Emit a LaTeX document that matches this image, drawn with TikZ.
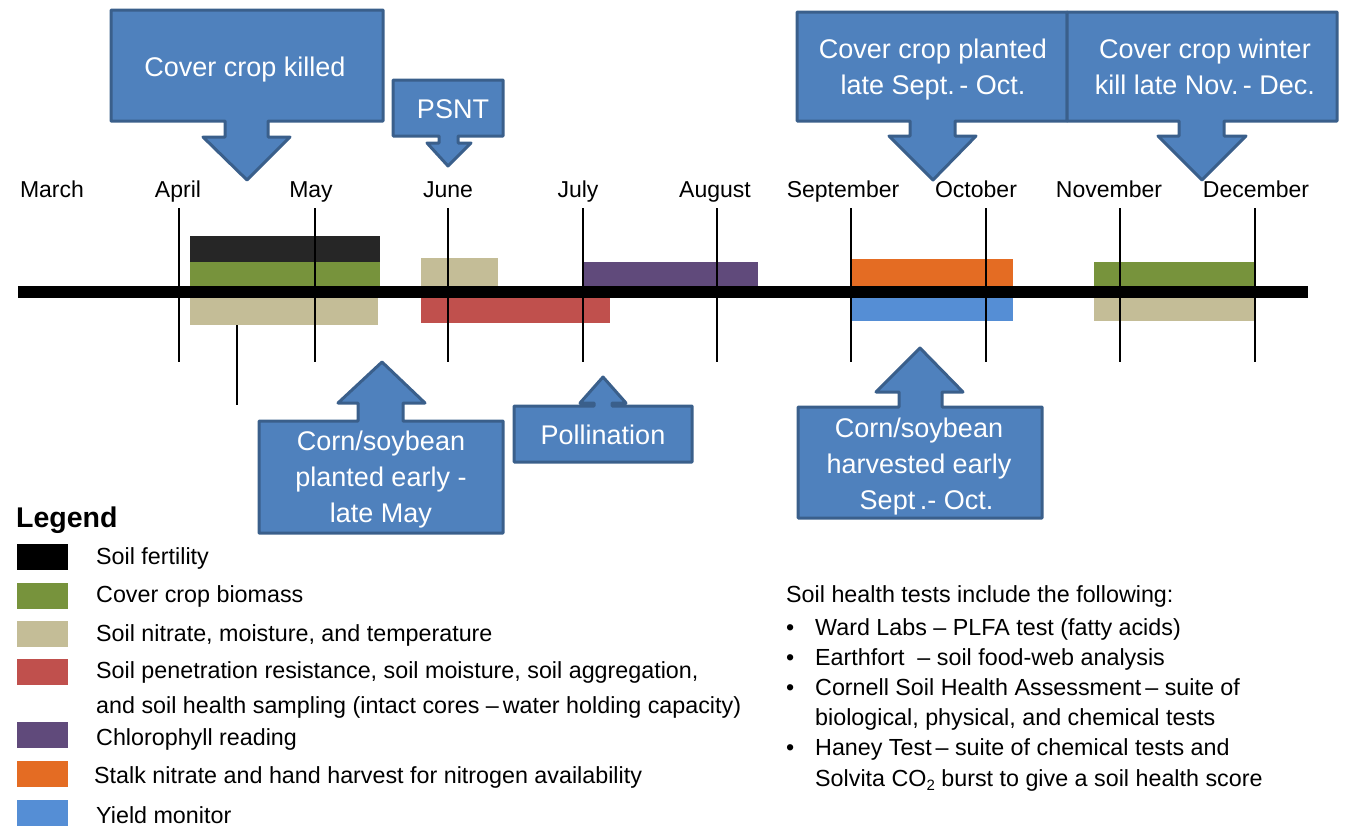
\documentclass[tikz,border=0pt]{standalone}
\usepackage{fontspec}
\setmainfont{Liberation Sans}
\definecolor{cblue}{HTML}{4F81BD}
\definecolor{cborder}{HTML}{3A5F8B}
\definecolor{cfert}{HTML}{262626}
\definecolor{cgreen}{HTML}{77933C}
\definecolor{ctan}{HTML}{C4BD97}
\definecolor{cred}{HTML}{C0504D}
\definecolor{cpurple}{HTML}{604A7B}
\definecolor{corange}{HTML}{E46C23}
\definecolor{cyield}{HTML}{558ED5}
\tikzset{
  callout/.style={fill=cblue, draw=cborder, line width=3pt, line join=round},
  ctext/.style={text=white, font=\fontsize{27}{36}\selectfont, align=center, inner sep=0pt},
  month/.style={font=\fontsize{23}{27}\selectfont, anchor=base, inner sep=0pt},
  mline/.style={line width=1.8pt},
  ltext/.style={font=\fontsize{23.3}{35}\selectfont, anchor=base west, inner sep=0pt},
}
\begin{document}
\begin{tikzpicture}[x=1pt,y=-1pt]
\useasboundingbox (0,0) rectangle (1345,827);
% top callouts
\draw[callout] (111,10) -- (383,10) -- (383,121) -- (268,121) -- (268,137) -- (290,137) -- (247,180) -- (203,137) -- (225,137) -- (225,121) -- (111,121) -- cycle;
\node[ctext] (killed) at (245,70) {Cover crop killed};
\draw[callout] (393,80) -- (503,80) -- (503,136) -- (458,136) -- (458,143) -- (471,143) -- (448,166) -- (427,143) -- (439,143) -- (439,136) -- (393,136) -- cycle;
\node[ctext] (psnt) at (453,109) {PSNT};
\draw[callout] (797,12) -- (1067,12) -- (1067,121) -- (955,121) -- (955,136) -- (976,136) -- (933,180) -- (889,136) -- (910,136) -- (910,121) -- (797,121) -- cycle;
\node[ctext] (planted) at (933,70) {Cover crop planted\\ late Sept.\,- Oct.};
\draw[callout] (1067,12) -- (1337,12) -- (1337,121) -- (1224,121) -- (1224,136) -- (1246,136) -- (1202,180) -- (1158,136) -- (1179,136) -- (1179,121) -- (1067,121) -- cycle;
\node[ctext] (winter) at (1205,67) {Cover crop winter\\ kill late Nov.\,- Dec.};
% months
\foreach \m/\x in {March/52, April/178, May/311, June/448, July/578, August/715, September/843, October/976, November/1109, December/1256}
  \node[month] (m\m) at (\x,197) {\m};
% bars
\fill[cfert] (190,236) rectangle (380,262);
\fill[cgreen] (190,262) rectangle (380,287);
\fill[ctan] (190,297) rectangle (378,325);
\fill[ctan] (421,258) rectangle (498,287);
\fill[cred] (421,297) rectangle (610,323);
\fill[cpurple] (583,262) rectangle (758,287);
\fill[corange] (851,259) rectangle (1013,287);
\fill[cyield] (851,297) rectangle (1013,321);
\fill[cgreen] (1094,262) rectangle (1254,287);
\fill[ctan] (1094,297) rectangle (1254,321);
% vertical month lines
\foreach \x in {179,315,448,583,717,851,986,1120,1255}
  \draw[mline] (\x,208) -- (\x,362);
\draw[mline] (237,325) -- (237,405);
% main timeline
\fill[black] (18,286) rectangle (1308,298);
% bottom callouts
\draw[callout] (259,533) -- (503,533) -- (503,421) -- (403,421) -- (403,403) -- (425,403) -- (382,362) -- (338,403) -- (358,403) -- (358,421) -- (259,421) -- cycle;
\node[ctext] (sown) at (381,480) {Corn/soybean\\ planted early -\\ late May};
\draw[callout] (514,462) -- (692,462) -- (692,406) -- (612,406) -- (612,403) -- (626,403) -- (603,377) -- (580,403) -- (594,403) -- (594,406) -- (514,406) -- cycle;
\node[ctext] (poll) at (603,435) {Pollination};
\draw[callout] (798,518) -- (1042,518) -- (1042,407) -- (942,407) -- (942,392) -- (963,392) -- (920,348) -- (876,392) -- (899,392) -- (899,407) -- (798,407) -- cycle;
\node[ctext] (harv) at (919,467) {Corn/soybean\\ harvested early\\ \ \ Sept\,.- Oct.};
% legend
\node[anchor=base west, inner sep=0pt, font=\fontsize{28.5}{32}\selectfont\bfseries] (leg) at (16,527) {Legend};
\fill[black] (17,544) rectangle (68,570);
\fill[cgreen] (17,583) rectangle (68,609);
\fill[ctan] (17,621) rectangle (68,647);
\fill[cred] (17,659) rectangle (68,685);
\fill[cpurple] (17,722) rectangle (68,748);
\fill[corange] (17,761) rectangle (68,787);
\fill[cyield] (17,800) rectangle (68,826);
\node[ltext] (l1) at (96,564) {Soil fertility};
\node[ltext] (l2) at (96,602) {Cover crop biomass};
\node[ltext] (l3) at (96,641) {Soil nitrate, moisture, and temperature};
\node[ltext] (l4) at (96,678) {Soil penetration resistance, soil moisture, soil aggregation,};
\node[ltext] (l4b) at (96,713) {and soil health sampling (intact cores \textendash\,water holding capacity)};
\node[ltext] (l5) at (96,745) {Chlorophyll reading};
\node[ltext] (l6) at (94,783) {Stalk nitrate and hand harvest for nitrogen availability};
\node[ltext] (l7) at (96,823) {Yield monitor};
% right text
\node[ltext] (t0) at (786,602) {Soil health tests include the following:};
\foreach \y/\n in {635/1,665/2,695/3,755/4}
  \node[ltext] (b\n) at (786,\y) {\textbullet};
\node[ltext] (t1) at (815,635) {Ward Labs \textendash{} PLFA test (fatty acids)};
\node[ltext] (t2) at (815,665) {Earthfort \ \textendash{} soil food-web analysis};
\node[ltext] (t3) at (815,695) {Cornell Soil Health Assessment\,\textendash{} suite of};
\node[ltext] (t3b) at (815,725) {biological, physical, and chemical tests};
\node[ltext] (t4) at (815,755) {Haney Test\,\textendash{} suite of chemical tests and};
\node[ltext] (t4b) at (815,786) {Solvita CO\raisebox{-0.35ex}{\fontsize{15}{15}\selectfont 2} burst to give a soil health score};
\end{tikzpicture}
\end{document}
